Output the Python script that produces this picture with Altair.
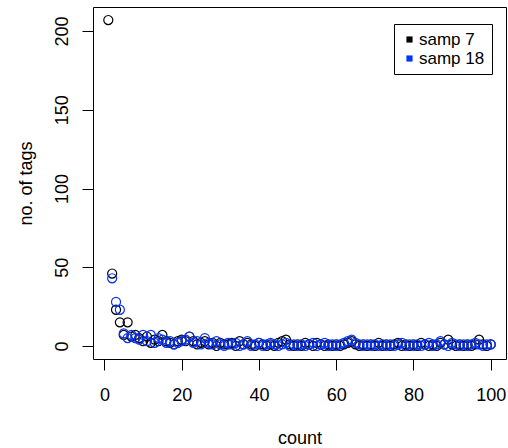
import altair as alt
import pandas as pd

series_names = ["samp 7", "samp 18"]
series_colors = ["#000000", "#0433ff"]

count_7 = list(range(1, 101))
tags_7 = [207, 46, 23, 15, 7, 15, 6, 7, 5, 3,
          6, 2, 4, 3, 7, 3, 2, 1, 3, 4,
          3, 6, 3, 1, 2, 3, 1, 2, 0, 2,
          1, 1, 2, 0, 3, 1, 2, 1, 0, 2,
          1, 0, 1, 0, 2, 3, 4, 1, 0, 1,
          0, 2, 1, 0, 2, 1, 0, 1, 0, 1,
          0, 1, 2, 3, 1, 0, 1, 0, 1, 0,
          2, 0, 1, 0, 1, 2, 0, 1, 0, 1,
          0, 2, 1, 0, 1, 0, 2, 1, 4, 1,
          0, 1, 0, 1, 0, 1, 4, 1, 0, 1]

count_18 = list(range(2, 101))
tags_18 = [43, 28, 23, 8, 5, 7, 5, 4, 7,
           3, 7, 2, 5, 4, 2, 3, 1, 2, 3,
           4, 6, 2, 3, 1, 5, 2, 1, 3, 1,
           0, 2, 1, 2, 0, 1, 3, 0, 1, 2,
           0, 1, 2, 1, 0, 1, 2, 0, 1, 0,
           1, 0, 1, 2, 0, 1, 2, 0, 1, 0,
           1, 2, 3, 4, 2, 1, 0, 1, 0, 1,
           0, 1, 0, 1, 0, 1, 2, 0, 1, 0,
           1, 0, 1, 2, 0, 1, 3, 1, 0, 2,
           1, 0, 1, 0, 1, 2, 1, 0, 1, 1]

x_ticks = [0, 20, 40, 60, 80, 100]
y_ticks = [0, 50, 100, 150, 200]

df = pd.concat([
    pd.DataFrame({"count": count_7, "tags": tags_7, "sample": series_names[0]}),
    pd.DataFrame({"count": count_18, "tags": tags_18, "sample": series_names[1]}),
], ignore_index=True)
df["series"] = df["sample"]

FONT = "Liberation Sans"

x_enc = alt.X("count:Q",
              scale=alt.Scale(domain=[-2.96, 103.96], nice=False, zero=False),
              axis=alt.Axis(values=x_ticks, title="count", grid=False, domain=False,
                            tickSize=11, tickColor="black", labelFontSize=18,
                            labelFont=FONT, labelColor="black", labelBaseline="alphabetic",
                            labelPadding=30, titleFontSize=18, titleFont=FONT,
                            titleFontWeight="normal", titleColor="black",
                            titleBaseline="alphabetic", titleY=84, labelFlush=False))
y_enc = alt.Y("tags:Q",
              scale=alt.Scale(domain=[-8.28, 215.28], nice=False, zero=False),
              axis=alt.Axis(values=y_ticks, title="no. of tags", grid=False, domain=False,
                            tickSize=11, tickColor="black", labelFontSize=18,
                            labelFont=FONT, labelColor="black", labelAngle=270,
                            labelAlign="center", labelBaseline="alphabetic",
                            labelPadding=15, titleFontSize=18, titleFont=FONT,
                            titleFontWeight="normal", titleColor="black",
                            titleAngle=270, titleBaseline="alphabetic", titleX=-62,
                            titleY=176, labelFlush=False))

points = alt.Chart(df).mark_point(
    shape="circle", filled=False, size=82, strokeWidth=1.2, opacity=1
).encode(
    x=x_enc,
    y=y_enc,
    stroke=alt.Stroke("sample:N",
                      scale=alt.Scale(domain=series_names, range=series_colors),
                      legend=None),
)

legend_layer = alt.Chart(df).transform_filter(
    alt.datum.tags < -1000
).mark_square(size=38, opacity=1).encode(
    x=x_enc,
    y=y_enc,
    fill=alt.Fill("series:N",
                  scale=alt.Scale(domain=series_names, range=series_colors),
                  legend=alt.Legend(
                      title=None, orient="none", legendX=301, legendY=17,
                      symbolType="square", symbolSize=38, labelFontSize=17,
                      labelFont=FONT, labelColor="black", strokeColor="black",
                      fillColor="white", padding=7, rowPadding=1,
                      symbolStrokeWidth=0, symbolOffset=0, labelOffset=1,
                      symbolOpacity=1)),
)

chart = alt.layer(points, legend_layer).resolve_scale(
    fill="independent", stroke="independent"
).properties(
    width=413, height=352,
    background="white",
    autosize=alt.AutoSizeParams(type="none"),
    padding={"left": 93, "top": 7, "right": 2, "bottom": 89},
).configure_view(
    stroke="black", strokeWidth=1
)

chart.save("out.html", embed_options={"renderer": "svg", "actions": False})
